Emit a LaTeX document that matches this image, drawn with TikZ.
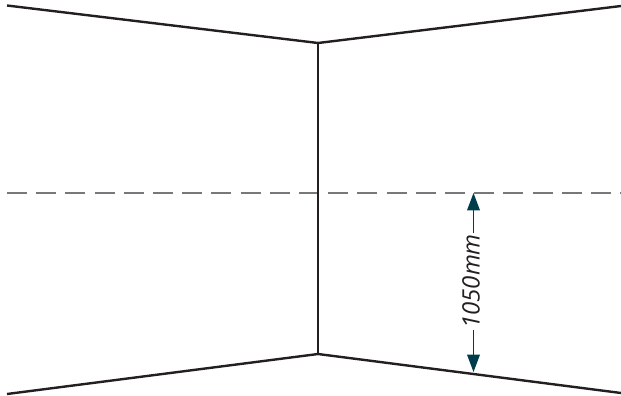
\documentclass[tikz,border=0pt]{standalone}
\usepackage{fontspec}
\setmainfont{Open Sans}
\usetikzlibrary{arrows.meta}
\definecolor{wallline}{HTML}{231F20}
\definecolor{guide}{HTML}{77787B}
\definecolor{dimteal}{HTML}{003D4C}
\tikzset{
  wall/.style={draw=wallline,line width=1.8pt},
  guideline/.style={draw=guide,line width=1.2pt,dash pattern=on 15pt off 6.9pt},
  dimline/.style={draw=dimteal,line width=1pt},
  dimhead/.style={-{Triangle[length=13pt,width=9.5pt,fill=dimteal]}},
  dimlabel/.style={rotate=90,font=\itshape\fontsize{18}{20}\selectfont,text=wallline,inner sep=0pt}
}
\begin{document}
\begin{tikzpicture}[x=0.75pt,y=-0.75pt]
\useasboundingbox (0,0) rectangle (621,396);
\coordinate (tl) at (7,5.5);
\coordinate (tc) at (318,43);
\coordinate (tr) at (621,6);
\coordinate (bl) at (7,394);
\coordinate (bc) at (318,354);
\coordinate (br) at (621,393);
\coordinate (dl) at (7,193);
\coordinate (dr) at (621,193);
\coordinate (atop) at (473.5,193);
\coordinate (abot) at (473.5,372);
\node[dimlabel] (dim) at (471,281.5) {1050mm};
\draw[guideline] (dl) -- (dr);
\draw[wall] (tl) -- (tc) -- (tr);
\draw[wall] (bl) -- (bc) -- (br);
\draw[wall] (tc) -- (bc);
\draw[dimline,dimhead] (473.5,232.5) -- (atop);
\draw[dimline,dimhead] (473.5,330) -- (abot);
\end{tikzpicture}
\end{document}
